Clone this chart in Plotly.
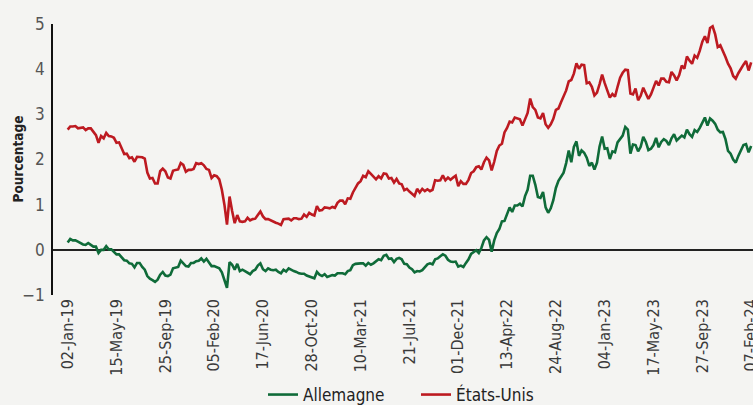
import pandas as pd
import plotly.graph_objects as go

# Weekly observations (Wednesdays) starting 02-Jan-2019
start_date = "2019-01-02"

us_2019 = [2.66, 2.73, 2.73, 2.74, 2.69, 2.70, 2.71, 2.65, 2.69, 2.69,
           2.61, 2.54, 2.37, 2.52, 2.47, 2.59, 2.52, 2.51, 2.48, 2.37,
           2.38, 2.25, 2.12, 2.13, 2.03, 2.05, 1.95, 2.06, 2.05, 2.05,
           2.02, 1.71, 1.58, 1.59, 1.47, 1.47, 1.74, 1.80, 1.74, 1.60,
           1.58, 1.75, 1.77, 1.78, 1.92, 1.88, 1.73, 1.77, 1.77, 1.79,
           1.92, 1.90]
us_2020 = [1.92, 1.87, 1.79, 1.77, 1.59, 1.65, 1.63, 1.56, 1.33, 1.00,
           0.56, 1.18, 0.86, 0.59, 0.77, 0.63, 0.62, 0.63, 0.71, 0.65,
           0.68, 0.69, 0.77, 0.85, 0.74, 0.68, 0.68, 0.65, 0.63, 0.60,
           0.58, 0.55, 0.68, 0.68, 0.69, 0.65, 0.70, 0.70, 0.68, 0.69,
           0.78, 0.73, 0.82, 0.78, 0.76, 0.97, 0.87, 0.88, 0.94, 0.93,
           0.92, 0.95, 0.93]
us_2021 = [1.04, 1.09, 1.09, 1.01, 1.14, 1.13, 1.27, 1.38, 1.47, 1.52,
           1.64, 1.61, 1.74, 1.68, 1.63, 1.56, 1.63, 1.58, 1.69, 1.68,
           1.58, 1.59, 1.49, 1.57, 1.47, 1.45, 1.32, 1.35, 1.29, 1.24,
           1.19, 1.35, 1.27, 1.35, 1.30, 1.34, 1.30, 1.33, 1.54, 1.53,
           1.54, 1.65, 1.54, 1.60, 1.55, 1.60, 1.64, 1.41, 1.52, 1.46,
           1.46, 1.55]
us_2022 = [1.70, 1.74, 1.83, 1.85, 1.78, 1.94, 2.04, 1.98, 1.76, 1.95,
           2.19, 2.31, 2.35, 2.60, 2.70, 2.84, 2.82, 2.93, 2.91, 2.89,
           2.75, 2.91, 3.03, 3.35, 3.16, 3.10, 2.93, 2.91, 3.03, 2.78,
           2.70, 2.78, 2.90, 3.10, 3.13, 3.27, 3.41, 3.53, 3.73, 3.76,
           3.90, 4.13, 4.01, 4.10, 4.09, 3.69, 3.71, 3.61, 3.42, 3.48,
           3.67, 3.88]
us_2023 = [3.69, 3.55, 3.37, 3.45, 3.39, 3.61, 3.81, 3.92, 3.99, 3.98,
           3.46, 3.44, 3.57, 3.31, 3.41, 3.59, 3.45, 3.34, 3.44, 3.57,
           3.74, 3.64, 3.79, 3.79, 3.72, 3.71, 3.94, 3.86, 3.75, 3.87,
           4.08, 4.01, 4.28, 4.19, 4.12, 4.30, 4.25, 4.41, 4.61, 4.73,
           4.58, 4.91, 4.95, 4.77, 4.49, 4.53, 4.41, 4.27, 4.12, 4.02,
           3.85, 3.79]
us_2024 = [3.91, 4.02, 4.10, 4.18, 3.97, 4.15]

de_2019 = [0.16, 0.24, 0.21, 0.21, 0.18, 0.14, 0.12, 0.11, 0.15, 0.11,
           0.07, 0.07, -0.07, 0.00, 0.00, 0.08, 0.01, 0.01, -0.04, -0.10,
           -0.10, -0.17, -0.23, -0.24, -0.30, -0.31, -0.39, -0.29, -0.29, -0.38,
           -0.44, -0.58, -0.64, -0.67, -0.71, -0.66, -0.55, -0.49, -0.57, -0.58,
           -0.55, -0.41, -0.39, -0.38, -0.24, -0.29, -0.36, -0.37, -0.29, -0.29,
           -0.25, -0.24]
de_2020 = [-0.19, -0.26, -0.20, -0.28, -0.36, -0.36, -0.38, -0.41, -0.50, -0.65,
           -0.84, -0.27, -0.33, -0.44, -0.31, -0.47, -0.44, -0.47, -0.50, -0.54,
           -0.47, -0.44, -0.35, -0.30, -0.43, -0.47, -0.41, -0.44, -0.45, -0.44,
           -0.49, -0.52, -0.44, -0.48, -0.41, -0.45, -0.47, -0.49, -0.52, -0.53,
           -0.53, -0.57, -0.59, -0.62, -0.63, -0.49, -0.55, -0.58, -0.54, -0.60,
           -0.58, -0.56, -0.57]
de_2021 = [-0.52, -0.52, -0.52, -0.54, -0.47, -0.45, -0.34, -0.31, -0.30, -0.30,
           -0.30, -0.35, -0.29, -0.33, -0.30, -0.26, -0.21, -0.23, -0.13, -0.11,
           -0.20, -0.19, -0.27, -0.20, -0.18, -0.21, -0.31, -0.32, -0.39, -0.43,
           -0.50, -0.47, -0.48, -0.45, -0.38, -0.32, -0.30, -0.32, -0.21, -0.19,
           -0.14, -0.10, -0.13, -0.22, -0.26, -0.27, -0.26, -0.37, -0.35, -0.38,
           -0.29, -0.21]
de_2022 = [-0.09, -0.04, -0.01, -0.07, 0.04, 0.21, 0.28, 0.22, -0.04, 0.21,
           0.37, 0.46, 0.63, 0.64, 0.80, 0.94, 0.84, 0.98, 0.98, 1.02,
           0.96, 1.19, 1.33, 1.64, 1.64, 1.44, 1.17, 1.15, 1.28, 0.94,
           0.82, 0.92, 1.10, 1.37, 1.53, 1.61, 1.71, 1.92, 2.20, 1.94,
           2.28, 2.40, 2.08, 2.20, 2.15, 2.04, 1.86, 1.93, 1.78, 1.93,
           2.29, 2.51]
de_2023 = [2.24, 2.25, 2.01, 2.18, 2.16, 2.38, 2.47, 2.53, 2.72, 2.66,
           2.13, 2.33, 2.32, 2.18, 2.28, 2.50, 2.39, 2.21, 2.24, 2.32,
           2.48, 2.27, 2.39, 2.45, 2.41, 2.32, 2.47, 2.56, 2.42, 2.48,
           2.53, 2.49, 2.66, 2.56, 2.50, 2.65, 2.61, 2.70, 2.81, 2.93,
           2.75, 2.91, 2.86, 2.79, 2.66, 2.60, 2.61, 2.45, 2.19, 2.13,
           2.00, 1.93]
de_2024 = [2.08, 2.20, 2.32, 2.34, 2.16, 2.30]

tick_dates = ["2019-01-02", "2019-05-15", "2019-09-25", "2020-02-05", "2020-06-17",
              "2020-10-28", "2021-03-10", "2021-07-21", "2021-12-01", "2022-04-13",
              "2022-08-24", "2023-01-04", "2023-05-17", "2023-09-27", "2024-02-07"]
tick_labels = ["02-Jan-19", "15-May-19", "25-Sep-19", "05-Feb-20", "17-Jun-20",
               "28-Oct-20", "10-Mar-21", "21-Jul-21", "01-Dec-21", "13-Apr-22",
               "24-Aug-22", "04-Jan-23", "17-May-23", "27-Sep-23", "07-Feb-24"]
y_title = "Pourcentage"

us = us_2019 + us_2020 + us_2021 + us_2022 + us_2023 + us_2024
de = de_2019 + de_2020 + de_2021 + de_2022 + de_2023 + de_2024
dates = pd.date_range(start_date, periods=len(us), freq="7D")

FONT = "DejaVu Sans Condensed, Liberation Sans Narrow, Roboto, sans-serif"
BG = "#f4f4f2"

fig = go.Figure()
fig.add_trace(go.Scatter(x=dates, y=de, mode="lines", name="Allemagne",
                         line=dict(color="#0f6b39", width=2.6)))
fig.add_trace(go.Scatter(x=dates, y=us, mode="lines", name="États-Unis",
                         line=dict(color="#bd1a21", width=2.6)))

fig.add_annotation(text="<b>" + y_title + "</b>", xref="paper", yref="paper",
                   x=-0.0514, y=0.5, xanchor="center", yanchor="middle",
                   textangle=-90, showarrow=False,
                   font=dict(size=13.5, color="#222"))

fig.update_layout(
    width=753, height=405,
    paper_bgcolor=BG, plot_bgcolor=BG,
    margin=dict(l=53, r=0, t=24, b=110, autoexpand=False),
    font=dict(family=FONT, color="#333"),
    showlegend=True,
    legend=dict(orientation="h", x=0.3, xanchor="left",
                y=-0.369, yanchor="middle",
                entrywidth=108, font=dict(size=17, color="#222"),
                bgcolor="rgba(0,0,0,0)"),
    xaxis=dict(type="date", range=["2018-11-23", "2024-02-12"],
               tickvals=tick_dates, ticktext=tick_labels, tickangle=-90,
               showgrid=False, showline=False, zeroline=False, ticks="",
               automargin=False,
               tickfont=dict(size=16, color="#3a3a3a"),
               ticklabeloverflow="allow"),
    yaxis=dict(range=[-1, 5], dtick=1, showgrid=False, showline=True,
               linecolor="#111", linewidth=1.5, ticks="", automargin=False,
               zeroline=True, zerolinecolor="#222", zerolinewidth=1.5,
               ticklabelstandoff=3,
               tickfont=dict(size=17, color="#555")),
)

fig.write_html("out.html", config={"displayModeBar": False},
               post_script="document.body.style.margin='0';")
